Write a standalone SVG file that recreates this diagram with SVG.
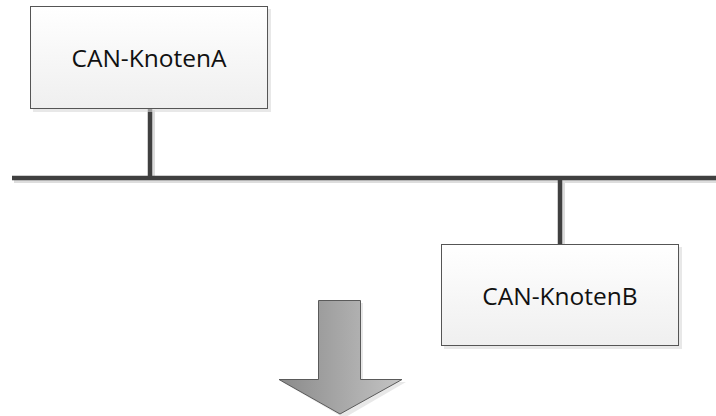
<svg xmlns="http://www.w3.org/2000/svg" width="716" height="416" viewBox="0 0 716 416">
  <defs>
    <linearGradient id="boxFill" x1="0" y1="0" x2="0" y2="1">
      <stop offset="0" stop-color="#ffffff"/>
      <stop offset="1" stop-color="#efefef"/>
    </linearGradient>
    <linearGradient id="arrowFill" x1="0" y1="0" x2="1" y2="0">
      <stop offset="0" stop-color="#8a8a8a"/>
      <stop offset="1" stop-color="#c4c4c4"/>
    </linearGradient>
  </defs>
  <style>
    .shadow { fill: #d9d9d9; opacity: 0.6; }
    .box { fill: url(#boxFill); stroke: #555555; stroke-width: 1; }
    .label { font-family: "Open Sans", "Liberation Sans", sans-serif; font-size: 24.5px; fill: #111111; text-anchor: middle; }
    .wire { stroke: #404040; stroke-width: 4.5; fill: none; }
    .wireShadow { stroke: #dddddd; stroke-width: 4; fill: none; }
  </style>

  <!-- bus wiring -->
  <g id="connectors">
    <line class="wireShadow" x1="14" y1="181" x2="716" y2="181"/>
    <line class="wireShadow" x1="153" y1="110" x2="153" y2="181"/>
    <line class="wireShadow" x1="563" y1="180" x2="563" y2="245"/>
    <line class="wire" x1="12" y1="178" x2="716" y2="178"/>
    <line class="wire" x1="150" y1="109" x2="150" y2="178"/>
    <line class="wire" x1="560" y1="178" x2="560" y2="244"/>
  </g>

  <g id="nodeA">
    <rect class="shadow" x="33" y="9" width="238" height="103"/>
    <rect class="box" x="30.5" y="6.5" width="237" height="102"/>
    <text class="label" x="149" y="67">CAN-KnotenA</text>
  </g>

  <g id="nodeB">
    <rect class="shadow" x="444" y="247" width="238" height="102"/>
    <rect class="box" x="441.5" y="244.5" width="237" height="101"/>
    <text class="label" x="560" y="305">CAN-KnotenB</text>
  </g>

  <!-- downward block arrow -->
  <g id="arrow">
    <polygon class="shadow" points="321,303 363,303 363,382 406,382 344,418 282,382 321,382"/>
    <polygon points="318.5,300.5 360.5,300.5 360.5,379.5 402,379.5 340,414 279,379.5 318.5,379.5" fill="url(#arrowFill)" stroke="#5a5a5a" stroke-width="1"/>
  </g>
</svg>
